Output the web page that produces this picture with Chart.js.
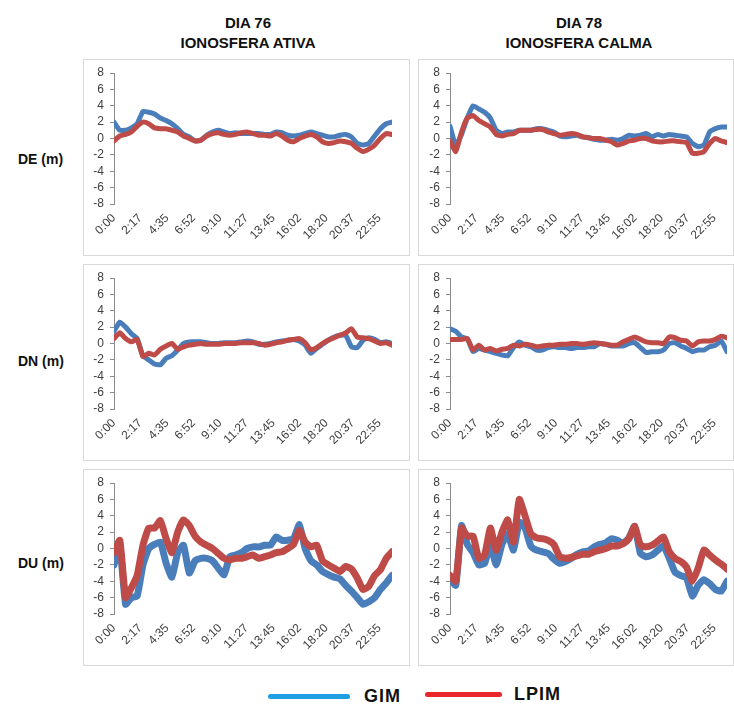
<!DOCTYPE html>
<html>
<head>
<meta charset="utf-8">
<script src="https://cdn.jsdelivr.net/npm/chart.js@4.4.0/dist/chart.umd.min.js"></script>
<style>
  body { margin: 0; background: #fff; width: 734px; height: 707px; position: relative; overflow: hidden; font-family: "Liberation Sans", Arial, sans-serif; }
  .hdr { position: absolute; width: 260px; text-align: center; font-weight: bold; font-size: 15px; line-height: 20px; color: #111; }
  .rowlbl { position: absolute; left: 18px; font-weight: bold; font-size: 14px; color: #111; }
  .box { position: absolute; border: 1px solid #d9d9d9; box-sizing: border-box; }
  canvas { position: absolute; }
  .leg { position: absolute; height: 5px; border-radius: 3px; }
  .legtxt { position: absolute; font-weight: bold; font-size: 18px; letter-spacing: 1px; color: #111; }
</style>
</head>
<body>
<div class="hdr" style="left:118px;top:13px">DIA 76<br>IONOSFERA ATIVA</div>
<div class="hdr" style="left:449px;top:13px">DIA 78<br>IONOSFERA CALMA</div>

<div class="rowlbl" style="top:151px">DE (m)</div>
<div class="rowlbl" style="top:353px">DN (m)</div>
<div class="rowlbl" style="top:555px">DU (m)</div>

<div class="box" style="left:83px;top:59px;width:327px;height:197px"></div>
<div class="box" style="left:418px;top:59px;width:316px;height:197px"></div>
<div class="box" style="left:83px;top:264px;width:327px;height:197px"></div>
<div class="box" style="left:418px;top:264px;width:316px;height:197px"></div>
<div class="box" style="left:83px;top:469px;width:327px;height:197px"></div>
<div class="box" style="left:418px;top:469px;width:316px;height:197px"></div>

<canvas id="de76" width="327" height="196" style="left:83px;top:59px"></canvas>
<canvas id="de78" width="315" height="196" style="left:418px;top:59px"></canvas>
<canvas id="dn76" width="327" height="196" style="left:83px;top:264px"></canvas>
<canvas id="dn78" width="315" height="196" style="left:418px;top:264px"></canvas>
<canvas id="du76" width="327" height="196" style="left:83px;top:469px"></canvas>
<canvas id="du78" width="315" height="196" style="left:418px;top:469px"></canvas>

<div class="leg" style="left:268px;top:694px;width:82px;background:#1f9fe3"></div>
<div class="legtxt" style="left:364px;top:686px">GIM</div>
<div class="leg" style="left:425px;top:692px;width:77px;background:#e8262b"></div>
<div class="legtxt" style="left:514px;top:684px">LPIM</div>

<script>
// sample times (minutes of day) and axis labels
const sampleMinutes = [0,30,60,90,120,150,180,210,240,270,300,330,360,390,420,450,480,510,540,570,600,630,660,690,720,750,780,810,840,870,900,930,960,990,1020,1050,1080,1110,1140,1170,1200,1230,1260,1290,1320,1350,1380,1410,1440];
const tickLabels = ['0:00','2:17','4:35','6:52','9:10','11:27','13:45','16:02','18:20','20:37','22:55'];

// DE (m)
const de76Gim  = [2.0,1.0,1.0,1.3,1.8,3.3,3.2,3.0,2.5,2.2,1.8,1.2,0.5,0.2,-0.3,-0.2,0.4,0.8,1.0,0.8,0.6,0.7,0.6,0.6,0.6,0.6,0.5,0.5,0.8,0.7,0.4,0.3,0.4,0.6,0.8,0.6,0.4,0.2,0.2,0.4,0.5,0.2,-0.6,-0.8,-0.6,0.3,1.2,1.8,2.0];
const de76Lpim = [-0.3,0.3,0.5,0.8,1.5,2.0,1.8,1.3,1.2,1.2,1.0,0.8,0.3,0,-0.3,-0.2,0.3,0.6,0.7,0.5,0.4,0.5,0.7,0.8,0.6,0.4,0.4,0.3,0.6,0.3,-0.2,-0.4,0,0.3,0.5,0.2,-0.4,-0.6,-0.5,-0.3,-0.4,-0.6,-1.2,-1.6,-1.3,-0.8,0,0.6,0.5];
const de78Gim  = [1.5,-0.8,0.5,2.5,4.0,3.6,3.2,2.5,1.0,0.6,0.8,0.8,1.0,1.0,1.0,1.2,1.2,1.0,0.8,0.3,0.2,0.3,0.4,0.2,0.1,-0.1,-0.2,-0.2,-0.1,-0.2,0,0.4,0.3,0.4,0.6,0.2,0.5,0.3,0.5,0.4,0.3,0.2,-0.6,-1.0,-0.8,0.8,1.2,1.4,1.4];
const de78Lpim = [-0.3,-1.6,0.8,2.5,2.8,2.2,1.8,1.4,0.5,0.3,0.5,0.6,1.0,1.0,1.0,1.1,1.1,0.8,0.6,0.4,0.5,0.6,0.5,0.2,0.1,0,0,-0.2,-0.4,-0.8,-0.6,-0.3,-0.2,0,0,-0.3,-0.4,-0.4,-0.3,-0.3,-0.4,-0.5,-1.8,-1.8,-1.6,-0.6,0,-0.3,-0.5];

// DN (m)
const dn76Gim  = [1.5,2.6,2.0,1.2,0.6,-1.5,-2.0,-2.5,-2.6,-1.8,-1.5,-0.8,0,0.2,0.2,0.2,0.1,0,0,0.1,0.1,0.1,0.2,0.3,0.2,-0.1,-0.1,0,0.2,0.3,0.4,0.5,0.3,-0.2,-1.2,-0.6,-0.1,0.4,0.8,1.0,1.0,-0.4,-0.5,0.4,0.7,0.5,0.1,0.2,0];
const dn76Lpim = [0.6,1.3,0.6,0.2,0.5,-1.6,-1.2,-1.4,-0.7,-0.3,0,-0.7,-0.4,-0.2,-0.1,0,-0.1,-0.1,-0.1,0,0,0,0.1,0.1,0.1,0,-0.2,-0.1,0.1,0.2,0.4,0.5,0.6,0.1,-0.8,-0.5,0,0.4,0.7,1.0,1.3,1.8,0.8,0.7,0.6,0.3,0,0.1,-0.2];
const dn78Gim  = [1.8,1.5,0.8,0.6,-1.0,-0.6,-0.8,-1.0,-1.2,-1.4,-1.5,-0.5,0.2,-0.2,-0.4,-0.8,-0.8,-0.5,-0.4,-0.5,-0.5,-0.6,-0.5,-0.5,-0.4,-0.4,0,-0.1,-0.3,-0.3,-0.3,0,0.1,-0.5,-1.1,-1.0,-1.0,-0.8,0,0.1,-0.3,-0.6,-1.0,-0.8,-0.8,-0.4,-0.2,0.3,-1.0];
const dn78Lpim = [0.5,0.5,0.5,0.6,-0.8,-0.2,-0.8,-0.6,-0.9,-0.7,-0.6,-0.2,-0.3,-0.1,-0.2,-0.4,-0.3,-0.2,-0.2,-0.1,-0.1,0,0,-0.1,0,0.1,0,-0.1,-0.2,-0.2,0.2,0.5,0.8,0.5,0.2,0.1,0.1,0,0.8,0.7,0.4,0.3,-0.3,0.2,0.3,0.3,0.5,0.9,0.7];

// DU (m)
const du76Gim  = [-2.0,0.3,-6.8,-6.0,-5.8,-2.0,0,0.5,0.8,-1.8,-3.5,-0.5,0.4,-3.0,-1.5,-1.2,-1.2,-1.5,-2.4,-3.2,-1.0,-0.8,-0.5,0,0.2,0.2,0.4,0.4,1.4,1.0,1.0,1.2,2.9,0,-1.5,-2.0,-2.8,-3.2,-3.5,-3.7,-4.5,-5.2,-6.0,-6.8,-6.5,-6.0,-5.0,-4.2,-3.3];
const du76Lpim = [-0.5,1.0,-6.0,-4.8,-3.3,0.4,2.5,2.5,3.4,1.2,-0.5,2.0,3.5,2.8,1.5,0.8,0.4,0,-0.6,-1.2,-1.4,-1.2,-1.2,-1.0,-0.8,-1.2,-1.0,-0.8,-0.5,-0.4,0,0.5,2.2,0.8,0.2,0.4,-1.5,-2.0,-2.4,-2.8,-2.2,-2.5,-3.6,-5.0,-4.6,-3.3,-2.6,-1.2,-0.4];
const du78Gim  = [-3.7,-4.5,2.8,0.5,-0.5,-2.0,-1.8,0.5,-2.0,0.5,1.8,-0.2,3.2,2.5,0.3,-0.2,-0.4,-0.6,-1.3,-1.8,-1.6,-1.2,-0.7,-0.4,-0.3,0.2,0.5,0.7,1.2,1.0,0.6,1.3,2.7,-0.6,-1.0,-0.8,-0.2,0.3,-1.2,-2.9,-3.3,-3.6,-5.8,-4.5,-3.8,-4.3,-5.0,-5.2,-4.0];
const du78Lpim = [-3.3,-4.0,2.5,1.5,1.5,-1.2,-0.8,2.5,-0.2,2.0,3.5,0.8,6.0,4.0,1.8,1.3,1.2,1.0,0.5,-1.0,-1.2,-1.1,-0.9,-0.7,-0.7,-0.4,-0.2,0,0.3,0.3,0.6,1.2,2.7,0.4,0.2,0.4,0.9,1.4,-0.4,-1.2,-1.6,-2.3,-4.0,-2.4,-0.2,-0.8,-1.4,-1.9,-2.5];

const panels = [
  { id: 'de76', gim: de76Gim, lpim: de76Lpim, lw: 5, left: 31, right: 18 },
  { id: 'de78', gim: de78Gim, lpim: de78Lpim, lw: 5, left: 32, right: 6 },
  { id: 'dn76', gim: dn76Gim, lpim: dn76Lpim, lw: 5, left: 31, right: 18 },
  { id: 'dn78', gim: dn78Gim, lpim: dn78Lpim, lw: 5, left: 32, right: 6 },
  { id: 'du76', gim: du76Gim, lpim: du76Lpim, lw: 7, left: 31, right: 18 },
  { id: 'du78', gim: du78Gim, lpim: du78Lpim, lw: 7, left: 32, right: 6 }
];

Chart.defaults.font.family = '"Liberation Sans", Arial, sans-serif';

function toMinutes(label) {
  const parts = label.split(':');
  return Number(parts[0]) * 60 + Number(parts[1]);
}

function points(values) {
  return sampleMinutes.map((t, i) => ({ x: t, y: values[i] }));
}

function makeChart(p) {
  const canvas = document.getElementById(p.id);
  const h = canvas.height;
  new Chart(canvas, {
    type: 'line',
    data: {
      datasets: [
        { label: 'GIM', data: points(p.gim), borderColor: '#4a7ebb', borderWidth: p.lw, order: 1 },
        { label: 'LPIM', data: points(p.lpim), borderColor: '#be4b48', borderWidth: p.lw, order: 0 }
      ]
    },
    options: {
      responsive: false,
      animation: false,
      layout: { padding: { top: 14, right: p.right, left: 0, bottom: 0 } },
      elements: {
        point: { radius: 0 },
        line: { tension: 0.15, borderJoinStyle: 'round', borderCapStyle: 'round' }
      },
      plugins: { legend: { display: false }, tooltip: { enabled: false } },
      scales: {
        x: {
          type: 'linear', min: 0, max: 1440,
          grid: { display: false, drawTicks: false },
          border: { display: false },
          afterBuildTicks: s => { s.ticks = tickLabels.map(l => ({ value: toMinutes(l) })); },
          afterFit: s => { s.height = h - 145; },
          ticks: {
            autoSkip: false, maxRotation: 45, minRotation: 45, padding: 7,
            color: '#404040', font: { size: 12 },
            callback: (v, i) => tickLabels[i]
          }
        },
        y: {
          min: -8, max: 8,
          ticks: { stepSize: 2, autoSkip: false, color: '#404040', font: { size: 12 }, padding: 6 },
          grid: { drawOnChartArea: false, tickLength: 4, color: '#8c8c8c' },
          border: { color: '#8c8c8c' },
          afterFit: s => { s.width = p.left; }
        }
      }
    }
  });
}

panels.forEach(makeChart);
</script>
</body>
</html>
